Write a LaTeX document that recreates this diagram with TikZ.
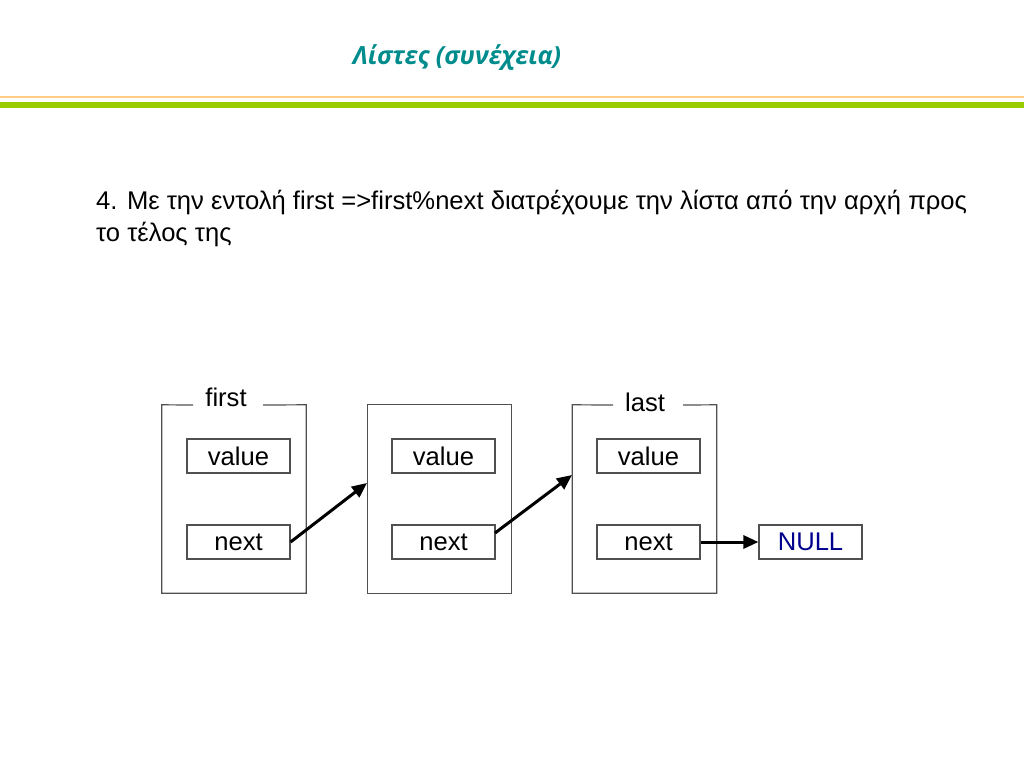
\documentclass[tikz,border=0pt]{standalone}
\usepackage{fontspec}
\setmainfont{Liberation Sans}
\newfontfamily\titlefont{Open Sans}
\usetikzlibrary{arrows.meta}
\definecolor{titleteal}{RGB}{0,140,140}
\definecolor{lineorange}{RGB}{255,204,128}
\definecolor{linegreen}{RGB}{153,204,0}
\definecolor{boxgray}{RGB}{80,80,80}
\definecolor{nullblue}{RGB}{0,0,140}
\tikzset{
  outerbox/.style={draw=none,minimum width=144pt,minimum height=188pt,inner sep=0pt},
  fieldbox/.style={draw=boxgray,line width=1.2pt,minimum width=103pt,minimum height=34pt,inner sep=0pt,font=\fontsize{25.6}{30}\selectfont},
  frame/.style={draw=boxgray,line width=1.2pt},
  lbl/.style={inner sep=0pt,font=\fontsize{25.6}{30}\selectfont},
  ptr/.style={line width=3pt,-{Triangle[length=15pt,width=13pt]}}
}
\begin{document}
\begin{tikzpicture}[x=1pt,y=-1pt]
\useasboundingbox (0,0) rectangle (1024,768);
\node[anchor=base,inner sep=0pt,font=\titlefont\bfseries\itshape\fontsize{25}{30}\selectfont,text=titleteal] (title) at (457,64) {Λίστες (συνέχεια)};
\draw[lineorange,line width=2pt] (0,97) -- (1024,97);
\draw[linegreen,line width=6pt] (0,105) -- (1024,105);
\node[anchor=base west,inner sep=0pt,align=left,font=\fontsize{25.6}{32}\selectfont] (body) at (96,241) {4. Με την εντολή first =>first\%next διατρέχουμε την λίστα από την αρχή προς\\το τέλος της};
% boxes
\node[outerbox] (b1) at (234,499) {};
\node[outerbox] (b2) at (439.5,499) {};
\node[outerbox] (b3) at (644.5,499) {};
\coordinate (g1l) at (193,405);
\coordinate (g1r) at (263,405);
\coordinate (g3l) at (613,405);
\coordinate (g3r) at (683,405);
\draw[frame] (g1r) -- (b1.north east) -- (b1.south east) -- (b1.south west) -- (b1.north west) -- (g1l);
\draw[frame] (b2.north west) rectangle (b2.south east);
\draw[frame] (g3r) -- (b3.north east) -- (b3.south east) -- (b3.south west) -- (b3.north west) -- (g3l);
\node[lbl] (first) at (226,397) {first};
\node[lbl] (last) at (645,402) {last};
\node[fieldbox] (v1) at (238.5,456) {value};
\node[fieldbox] (n1) at (238.5,542) {next};
\node[fieldbox] (v2) at (443.5,456) {value};
\node[fieldbox] (n2) at (443.5,542) {next};
\node[fieldbox] (v3) at (648.5,456) {value};
\node[fieldbox] (n3) at (648.5,542) {next};
\node[fieldbox,text=nullblue] (null) at (810.5,542) {NULL};
\coordinate (t2) at (367,483);
\coordinate (s2) at (495,533);
\coordinate (t3) at (572,475);
\draw[ptr] (n1.east) -- (t2);
\draw[ptr] (s2) -- (t3);
\draw[ptr] (n3.east) -- (null.west);
\end{tikzpicture}
\end{document}
